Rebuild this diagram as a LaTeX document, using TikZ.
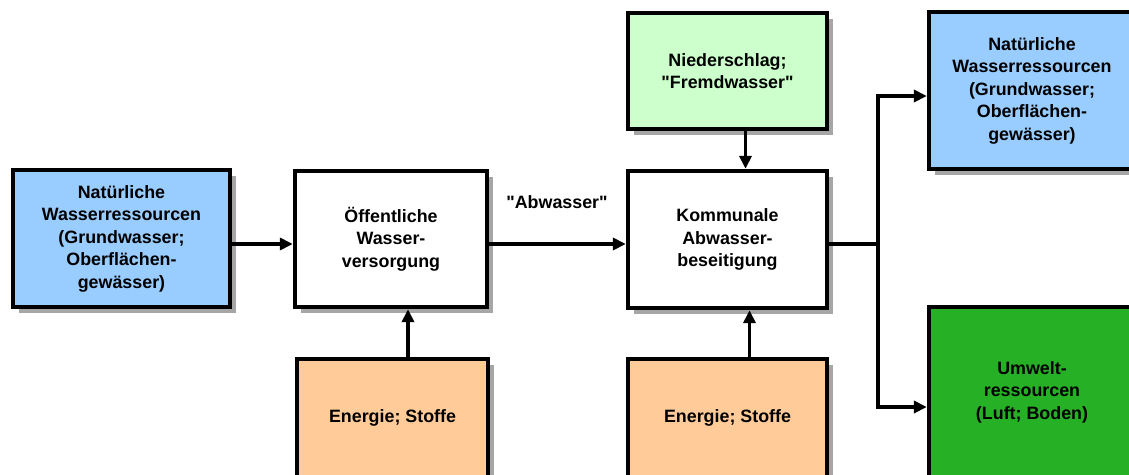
\documentclass[tikz,border=0pt]{standalone}
\usepackage{fontspec}
\setmainfont{Liberation Sans}[Ligatures=TeXOff]
\usetikzlibrary{arrows.meta,shadows}

\definecolor{wasserblau}{HTML}{99CCFF}
\definecolor{regengruen}{HTML}{CCFFCC}
\definecolor{energieorange}{HTML}{FFCC99}
\definecolor{umweltgruen}{HTML}{26B026}

\tikzset{
  kasten/.style={draw,line width=3.2pt,align=center,inner sep=0pt,
    font=\fontsize{12.7pt}{16pt}\selectfont\bfseries,
    drop shadow={shadow xshift=0.15cm,shadow yshift=-0.15cm,fill=black!35,opacity=1}},
  pfeil/.style={line width=2.8pt,-{Triangle[length=0.32cm,width=0.3cm]}},
}

\begin{document}
\begin{tikzpicture}[x=0.025cm,y=-0.025cm]
    \pgfmathsetmacro{\px}{0.025}
    \providecommand{\labelfontsize}{\fontsize{12.7pt}{16pt}\selectfont\bfseries}
    \useasboundingbox (0,0) rectangle (1129,474);
    % Kaesten
    \node[kasten,fill=wasserblau,minimum width=217*\px cm,minimum height=137*\px cm](quelle) at (121.5,238.5)
      {Natürliche\\Wasserressourcen\\(Grundwasser;\\Oberflächen-\\gewässer)};
    \node[kasten,fill=white,minimum width=192*\px cm,minimum height=136*\px cm](versorgung) at (391,239)
      {Öffentliche\\Wasser-\\versorgung};
    \node[kasten,fill=white,minimum width=199*\px cm,minimum height=137*\px cm](beseitigung) at (727.5,239.5)
      {Kommunale\\Abwasser-\\beseitigung};
    \node[kasten,fill=regengruen,minimum width=199*\px cm,minimum height=116*\px cm](regen) at (727.5,71)
      {Niederschlag;\\"Fremdwasser"};
    \node[kasten,fill=energieorange,minimum width=191*\px cm,minimum height=118*\px cm](energieA) at (392.5,418)
      {Energie; Stoffe};
    \node[kasten,fill=energieorange,minimum width=199*\px cm,minimum height=118*\px cm](energieB) at (727.5,418)
      {Energie; Stoffe};
    \node[kasten,fill=wasserblau,minimum width=206*\px cm,minimum height=157*\px cm](ziel) at (1032,90.5)
      {Natürliche\\Wasserressourcen\\(Grundwasser;\\Oberflächen-\\gewässer)};
    \node[kasten,fill=umweltgruen,minimum width=206*\px cm,minimum height=170*\px cm](umwelt) at (1032,392)
      {Umwelt-\\ressourcen\\(Luft; Boden)};
    \node[font=\labelfontsize](abwasser) at (557,202) {"Abwasser"};
    % Verbindungen
    \coordinate (verzweigung) at (878,244);
    \draw[pfeil] (quelle.east |- verzweigung) -- (versorgung.west |- verzweigung);
    \draw[pfeil] (versorgung.east |- verzweigung) -- (beseitigung.west |- verzweigung);
    \draw[pfeil] ([xshift=18*\px cm]regen.south) -- ([xshift=18*\px cm]beseitigung.north);
    \draw[pfeil] ([xshift=17*\px cm]versorgung.south |- energieA.north) -- ([xshift=17*\px cm]versorgung.south);
    \draw[pfeil] ([xshift=22*\px cm]energieB.north) -- ([xshift=22*\px cm]beseitigung.south);
    \draw[line width=2.8pt] (beseitigung.east |- verzweigung) -- (verzweigung);
    \draw[pfeil] (verzweigung) |- (ziel.west |- 0,96);
    \draw[pfeil] (verzweigung) |- (umwelt.west |- 0,407);
\end{tikzpicture}
\end{document}
